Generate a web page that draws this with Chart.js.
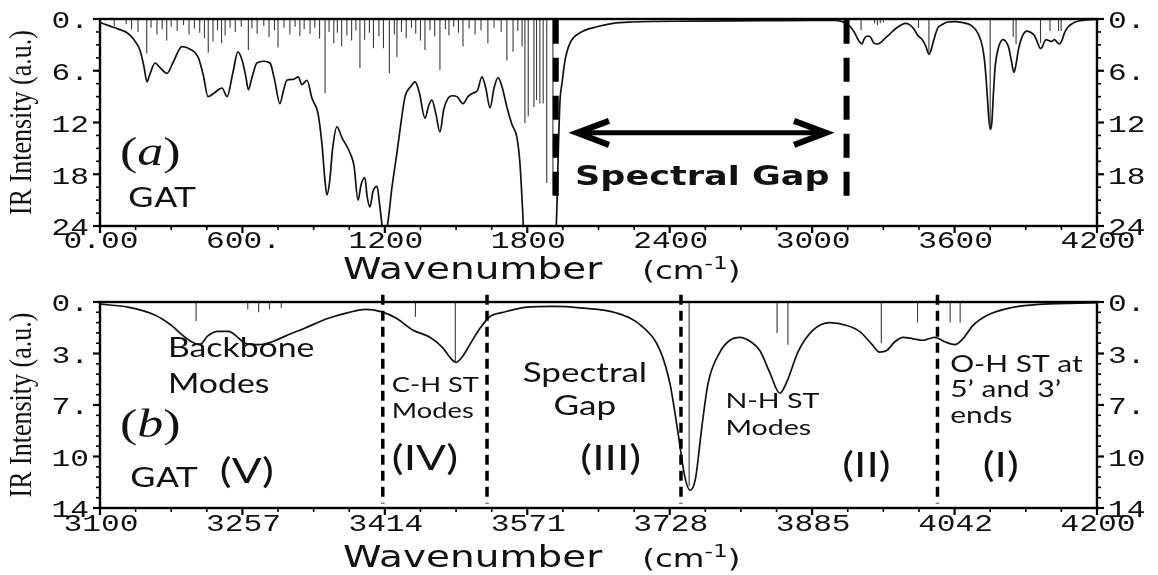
<!DOCTYPE html>
<html lang="en">
<head>
<meta charset="UTF-8">
<title>GAT IR spectrum</title>
<script src="https://cdn.jsdelivr.net/npm/chart.js"></script>
<style>
    body { margin: 0; background: #fff; }
    #wrap { position: relative; width: 1158px; height: 575px; }
    .panel { position: absolute; left: 0; width: 1158px; }
    #top { top: 0; height: 290px; }
    #bot { top: 290px; height: 285px; }
</style>
</head>
<body>
<div id="wrap">
    <div class="panel" id="top"><canvas id="topChart"></canvas></div>
    <div class="panel" id="bot"><canvas id="botChart"></canvas></div>
</div>
<script>
// broadened spectrum, 0 - 3000 cm-1 (panel a only)
const lowWave = [0,40,80,114,140,168,185,198,210,232,255,282,310,345,380,413,435,455,480,514,
    535,560,581,600,615,625,640,661,690,716,735,758,772,787,815,835,851,872,893,918,
    935,947,956,968,980,998,1020,1053,1070,1087,1100,1116,1125,1137,1150,1167,1178,1190,1200,1212,
    1230,1251,1268,1285,1310,1327,1345,1369,1385,1398,1415,1432,1448,1466,1485,1504,1529,1550,1571,1590,
    1609,1625,1643,1660,1677,1695,1714,1735,1756,1769,1780,1790,1905,1922,1932,1938,1946,1959,1980,2022,
    2093,2161,2245,2500,2800,3000];
const lowInt = [0.4,0.8,1.2,1.6,2.3,3.6,5.5,7.3,6.4,5.1,5.7,6.3,4.9,3.2,3.5,4.4,6.5,9.0,8.6,8.0,
    9.0,6.2,3.8,4.9,6.8,8.2,6.8,5.1,4.9,5.1,7.0,9.8,8.4,7.1,7.0,6.7,7.6,7.1,9.2,10.9,
    14.5,18.5,20.4,18.7,15.0,12.5,13.8,15.5,17.0,21.0,19.2,18.4,20.5,21.8,20.0,19.4,21.5,24.2,24.8,23.7,
    19.5,15.5,12.0,9.0,7.8,7.3,8.5,11.5,10.0,9.4,11.0,13.1,10.5,9.2,8.9,9.0,9.8,9.0,8.6,8.3,
    6.7,8.0,10.3,8.0,6.8,8.0,10.2,12.2,13.7,16.7,22.0,27,27,24,14,9.4,7.5,4.8,2.8,1.6,
    0.9,0.5,0.35,0.25,0.2,0.15];

// broadened spectrum, 3100 - 4200 cm-1 (both panels)
const highWave = [3100,3131,3161,3179,3190,3201,3210,3219,3230,3242,3252,3260,3275,3290,3305,3325,3352,3375,3393,3410,
    3427,3445,3464,3478,3488,3493,3500,3508,3518,3530,3545,3571,3600,3630,3670,3699,3718,3729,3738,3745,
    3751,3757,3764,3771,3784,3795,3806,3818,3828,3839,3850,3858,3870,3887,3905,3924,3938,3952,3960,3968,
    3977,3986,3997,4008,4021,4032,4043,4052,4063,4079,4104,4140,4200];
const highInt = [0.15,0.35,0.9,1.6,2.2,2.7,2.9,2.3,2.0,2.0,2.4,2.8,2.9,2.7,2.3,1.8,1.1,0.7,0.5,0.65,
    1.1,1.9,2.4,3.1,3.9,4.1,3.7,2.9,1.9,1.0,0.7,0.35,0.3,0.4,0.75,1.7,3.3,5.6,9.0,11.8,
    12.8,12.0,8.5,5.5,3.4,2.6,2.4,2.7,3.3,4.8,6.2,5.4,3.4,1.9,1.4,1.6,2.0,2.9,3.4,3.3,
    2.7,2.4,2.5,2.6,2.4,2.7,2.9,2.5,1.6,0.9,0.4,0.15,0.05];

// stick spectrum (normal modes)
const lowStickWave = [60,110,133,160,197,215,240,262,281,300,325,352,375,398,420,440,456,476,495,512,527,548,570,595,
    625,640,662,690,712,735,750,775,800,822,842,860,885,905,925,948,965,985,1000,1018,1040,1060,1078,1095,1115,1135,1152,1175,1194,1219,
    1240,1251,1270,1290,1312,1330,1350,1369,1390,1410,1432,1455,1470,1490,1510,1529,1555,1580,1605,1634,1660,1690,1714,1740,1760,1778,
    1790,1804,1828,1839,1853,1867,1882,1908];
const lowStickInt = [0.8,0.6,1.2,1.5,4.0,1.0,1.8,1.2,2.5,0.9,1.4,0.7,1.8,1.1,1.6,2.2,3.9,2.6,1.3,2.8,1.9,1.0,1.5,0.9,
    3.6,1.1,1.7,0.8,2.1,1.3,3.3,1.0,1.8,0.9,2.0,1.2,1.7,1.0,2.3,8.6,1.5,2.8,1.6,3.2,1.9,2.5,1.3,5.7,2.4,1.6,3.4,2.0,3.4,6.3,
    1.8,4.4,1.5,2.2,1.0,1.7,2.5,3.6,1.3,2.0,5.9,1.2,1.9,0.9,1.6,3.2,1.1,1.8,1.3,2.8,1.0,1.5,4.8,3.8,1.4,3.2,
    12.1,11.3,10.2,9.4,9.8,9.8,19.0,20.4];
const highStickWave = [3206,3263,3275,3287,3300,3448,3492,3750,3847,3859,3962,4002,4038,4049];
const highStickInt = [1.3,0.5,0.7,0.5,0.4,1.0,4.1,12.5,2.1,2.9,2.8,1.4,1.4,1.4];

// tick labels
const topXLabels = ['0.00', '600.', '1200', '1800', '2400', '3000', '3600', '4200'];
const topYLabels = ['0.', '6.', '12', '18', '24'];
const botXLabels = ['3100', '3257', '3414', '3571', '3728', '3885', '4042', '4200'];
const botYLabels = ['0.', '3.', '7.', '10', '14'];

// region borders
const gapLines = [1920, 3145];
const regionLines = [3412, 3527, 3741, 4024];

const SX = 1.3; // the scanned figure is stretched sideways
const INK = '#111';

function pts(xs, ys) {
    return xs.map((x, i) => ({ x: x, y: ys[i] }));
}

function sticks(xs, ys) {
    const out = [];
    xs.forEach((x, i) => { out.push({ x: x, y: 0 }, { x: x, y: ys[i] }, { x: x, y: null }); });
    return out;
}

// major ticks from the label list, n minor steps in between
function tickList(min, max, labels, n) {
    const t = [];
    const step = (max - min) / (labels.length - 1);
    for (let i = 0; i < labels.length; i++) {
        const v = min + i * step;
        t.push({ value: v, isMajor: true, txt: labels[i] });
        if (i < labels.length - 1) {
            for (let k = 1; k < n; k++) t.push({ value: v + step * k / n, isMajor: false });
        }
    }
    return t;
}

function seq(ctx, parts, x, y, align) {
    ctx.save();
    ctx.fillStyle = INK;
    ctx.textBaseline = 'alphabetic';
    ctx.textAlign = 'left';
    let w = 0;
    parts.forEach(p => { ctx.font = p.font; p.w = ctx.measureText(p.t).width * SX; w += p.w + (p.gap || 0); });
    let cx = align === 'center' ? x - w / 2 : (align === 'right' ? x - w : x);
    parts.forEach(p => {
        ctx.font = p.font;
        ctx.save();
        ctx.translate(cx, y + (p.dy || 0));
        ctx.scale(SX, 1);
        ctx.fillText(p.t, 0, 0);
        ctx.restore();
        cx += p.w + (p.gap || 0);
    });
    ctx.restore();
}

function label(ctx, t, x, y, font, align) {
    ctx.save();
    ctx.fillStyle = INK;
    ctx.font = font;
    ctx.textAlign = align;
    ctx.textBaseline = 'middle';
    ctx.translate(x, y);
    ctx.scale(SX, 1);
    ctx.fillText(t, 0, 0);
    ctx.restore();
}

const tickFont = '24px "Liberation Mono"';

function framePlugin(cfg) {
    return {
        id: 'frame',
        afterDraw(chart) {
            const ctx = chart.ctx;
            const a = chart.chartArea;
            const X = chart.scales.x, Y = chart.scales.y, Y2 = chart.scales.y2;
            ctx.save();
            ctx.strokeStyle = '#000';

            // dashed region lines
            ctx.lineWidth = cfg.dashWidth;
            ctx.setLineDash(cfg.dash);
            cfg.lines.forEach(v => {
                const px = X.getPixelForValue(v);
                ctx.beginPath();
                ctx.moveTo(px, Y.getPixelForValue(cfg.lineFrom));
                ctx.lineTo(px, Y.getPixelForValue(cfg.lineTo));
                ctx.stroke();
            });
            ctx.setLineDash([]);

            // double arrow
            if (cfg.arrow) {
                const x1 = X.getPixelForValue(cfg.arrow.x1), x2 = X.getPixelForValue(cfg.arrow.x2);
                const y = Y.getPixelForValue(cfg.arrow.y);
                ctx.lineWidth = 5;
                ctx.beginPath();
                ctx.moveTo(x1 + 4, y); ctx.lineTo(x2 - 4, y);
                ctx.stroke();
                ctx.lineWidth = 6;
                ctx.lineJoin = 'miter';
                ctx.beginPath();
                ctx.moveTo(x1 + 34, y - 12); ctx.lineTo(x1 + 2, y); ctx.lineTo(x1 + 34, y + 12);
                ctx.moveTo(x2 - 34, y - 12); ctx.lineTo(x2 - 2, y); ctx.lineTo(x2 - 34, y + 12);
                ctx.stroke();
            }

            // frame
            ctx.lineWidth = 2.4;
            ctx.strokeRect(a.left, a.top, a.right - a.left, a.bottom - a.top);

            // ticks and their labels
            X.ticks.forEach(t => {
                const px = X.getPixelForValue(t.value);
                ctx.lineWidth = t.isMajor ? 2.2 : 1.6;
                ctx.beginPath();
                ctx.moveTo(px, a.bottom); ctx.lineTo(px, a.bottom + (t.isMajor ? 7 : 4));
                ctx.stroke();
                if (t.isMajor) label(ctx, t.txt, px + 1, a.bottom + cfg.xLabelDy, tickFont, 'center');
            });
            [[Y, -1], [Y2, 1]].forEach(([s, dir]) => {
                const edge = dir < 0 ? a.left : a.right;
                s.ticks.forEach(t => {
                    const py = s.getPixelForValue(t.value);
                    ctx.lineWidth = t.isMajor ? 2.2 : 1.6;
                    ctx.beginPath();
                    ctx.moveTo(edge, py); ctx.lineTo(edge + dir * (t.isMajor ? 7 : 4), py);
                    ctx.stroke();
                    if (t.isMajor) {
                        label(ctx, t.txt, edge + dir * 11, py + 3, tickFont, dir < 0 ? 'right' : 'left');
                    }
                });
            });

            // axis titles
            ctx.save();
            ctx.fillStyle = INK;
            ctx.font = '26px "Liberation Serif"';
            ctx.textAlign = 'center';
            ctx.textBaseline = 'middle';
            ctx.translate(23, (a.top + a.bottom) / 2);
            ctx.rotate(-Math.PI / 2);
            ctx.scale(1, 1.2);
            ctx.fillText('IR Intensity (a.u.)', 0, 0);
            ctx.restore();

            seq(ctx, [
                { t: 'Wavenumber', font: '30px "DejaVu Sans"', gap: 40 },
                { t: '(cm', font: '25px "DejaVu Sans"' },
                { t: '-1', font: '18px "DejaVu Sans"', dy: -10 },
                { t: ')', font: '25px "DejaVu Sans"' }
            ], a.left + 243, a.bottom + cfg.titleDy, 'left');

            // annotations
            cfg.notes.forEach(n => {
                seq(ctx, n.parts, X.getPixelForValue(n.x), Y.getPixelForValue(n.y), n.align || 'left');
            });

            ctx.restore();
        }
    };
}

function makeChart(id, cfg) {
    const hidden = { grid: { display: false }, ticks: { display: false }, border: { display: false } };
    return new Chart(document.getElementById(id), {
        type: 'line',
        data: {
            datasets: [
                {
                    data: sticks(cfg.stickWave, cfg.stickInt),
                    borderColor: '#3a3a3a',
                    borderWidth: 1.1,
                    pointRadius: 0,
                    spanGaps: false
                },
                {
                    data: pts(cfg.wave, cfg.inten),
                    borderColor: INK,
                    borderWidth: 1.7,
                    pointRadius: 0,
                    cubicInterpolationMode: 'monotone'
                }
            ]
        },
        options: {
            responsive: true,
            maintainAspectRatio: false,
            animation: false,
            events: [],
            layout: { padding: { top: cfg.padTop, left: 0, right: 0, bottom: 0 }, autoPadding: false },
            plugins: { legend: { display: false }, tooltip: { enabled: false } },
            scales: {
                x: Object.assign({
                    type: 'linear', min: cfg.xMin, max: cfg.xMax,
                    afterBuildTicks: s => { s.ticks = tickList(cfg.xMin, cfg.xMax, cfg.xLabels, 4); },
                    afterFit: s => { s.height = cfg.xHeight; }
                }, hidden),
                y: Object.assign({
                    type: 'linear', min: 0, max: cfg.yMax, reverse: true,
                    afterBuildTicks: s => { s.ticks = tickList(0, cfg.yMax, cfg.yLabels, cfg.yMinor); },
                    afterFit: s => { s.width = 100; }
                }, hidden),
                y2: Object.assign({
                    type: 'linear', position: 'right', min: 0, max: cfg.yMax, reverse: true,
                    afterBuildTicks: s => { s.ticks = tickList(0, cfg.yMax, cfg.yLabels, cfg.yMinor); },
                    afterFit: s => { s.width = 61; }
                }, hidden)
            }
        },
        plugins: [framePlugin(cfg)]
    });
}

const lato = size => size + 'px Lato';
const serif = '40px "Liberation Serif"';
const serifIt = 'italic 40px "Liberation Serif"';

makeChart('topChart', {
    wave: lowWave.concat(highWave), inten: lowInt.concat(highInt),
    stickWave: lowStickWave.concat(highStickWave), stickInt: lowStickInt.concat(highStickInt),
    xMin: 0, xMax: 4200, yMax: 24, yMinor: 4,
    xLabels: topXLabels, yLabels: topYLabels,
    padTop: 19, xHeight: 64, xLabelDy: 16, titleDy: 53,
    lines: gapLines, lineFrom: 0.1, lineTo: 21, dash: [24, 14], dashWidth: 6,
    arrow: { x1: 2001, x2: 3067, y: 13.2 },
    notes: [
        { x: 84, y: 16.9, parts: [{ t: '(', font: serif }, { t: 'a', font: serifIt }, { t: ')', font: serif }] },
        { x: 118, y: 21.8, parts: [{ t: 'GAT', font: '26px "DejaVu Sans"' }] },
        { x: 2001, y: 19.2, parts: [{ t: 'Spectral Gap', font: 'bold 27px "DejaVu Sans"' }] }
    ]
});

makeChart('botChart', {
    wave: highWave, inten: highInt,
    stickWave: highStickWave, stickInt: highStickInt,
    xMin: 3100, xMax: 4200, yMax: 14, yMinor: 5,
    xLabels: botXLabels, yLabels: botYLabels,
    padTop: 12, xHeight: 67, xLabelDy: 17, titleDy: 59,
    lines: regionLines, lineFrom: -0.5, lineTo: 13.7, dash: [10, 6], dashWidth: 3.5,
    notes: [
        { x: 3175, y: 3.74, parts: [{ t: 'Backbone', font: lato(26) }] },
        { x: 3175, y: 6.19, parts: [{ t: 'Modes', font: lato(26) }] },
        { x: 3422, y: 6.12, parts: [{ t: 'C-H ST', font: lato(21) }] },
        { x: 3422, y: 7.9, parts: [{ t: 'Modes', font: lato(21) }] },
        { x: 3635, y: 5.44, align: 'center', parts: [{ t: 'Spectral', font: lato(27) }] },
        { x: 3635, y: 7.7, align: 'center', parts: [{ t: 'Gap', font: lato(27) }] },
        { x: 3790, y: 7.2, parts: [{ t: 'N-H ST', font: lato(22) }] },
        { x: 3790, y: 9.04, parts: [{ t: 'Modes', font: lato(22) }] },
        { x: 4038, y: 4.76, parts: [{ t: 'O-H ST at', font: lato(23) }] },
        { x: 4038, y: 6.46, parts: [{ t: '5\u2019 and 3\u2019', font: lato(23) }] },
        { x: 4038, y: 8.2, parts: [{ t: 'ends', font: lato(23) }] },
        { x: 3122, y: 9.18, parts: [{ t: '(', font: serif }, { t: 'b', font: serifIt }, { t: ')', font: serif }] },
        { x: 3133, y: 12.6, parts: [{ t: 'GAT', font: '26px "DejaVu Sans"' }] },
        { x: 3232, y: 12.3, parts: [{ t: '(V)', font: lato(34) }] },
        { x: 3422, y: 11.4, parts: [{ t: '(IV)', font: lato(34) }] },
        { x: 3630, y: 11.4, parts: [{ t: '(III)', font: lato(34) }] },
        { x: 3919, y: 11.9, parts: [{ t: '(II)', font: lato(34) }] },
        { x: 4074, y: 11.9, parts: [{ t: '(I)', font: lato(34) }] }
    ]
});
</script>
</body>
</html>
